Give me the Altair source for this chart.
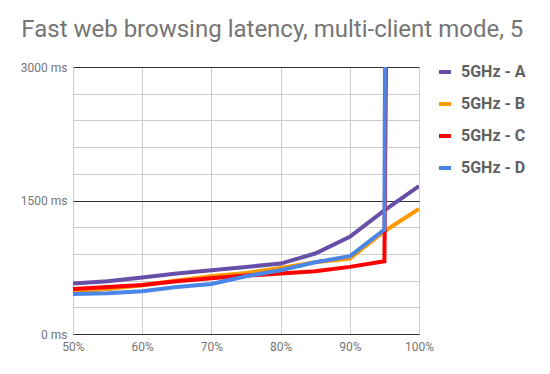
import altair as alt
import pandas as pd

load = [0.50, 0.55, 0.60, 0.65, 0.70, 0.75, 0.80, 0.85, 0.90, 0.95, 1.00]
series_names = ["5GHz - A", "5GHz - B", "5GHz - C", "5GHz - D"]
lat_a = [566, 593, 634, 679, 716, 754, 791, 904, 1091, 1388, 1661]
lat_b = [480, 506, 548, 600, 649, 686, 742, 806, 847, 1155, 1406]
lat_c = [506, 529, 551, 592, 626, 656, 679, 705, 754, 817, 50000]
lat_d = [450, 457, 480, 529, 562, 649, 716, 806, 874, 1174, 120000]
colors = ["#674ea7", "#ff9900", "#ff0000", "#4a86e8"]
y_ticks = [0, 300, 600, 900, 1200, 1500, 1800, 2100, 2400, 2700, 3000]
x_ticks = [0.5, 0.6, 0.7, 0.8, 0.9, 1.0]

rows = []
for name, vals in zip(series_names, [lat_a, lat_b, lat_c, lat_d]):
    for x, v in zip(load, vals):
        rows.append({"load": x, "latency": v, "series": name})
df = pd.DataFrame(rows)

chart = alt.Chart(df).mark_line(strokeWidth=4, clip=True).encode(
    x=alt.X("load:Q",
            scale=alt.Scale(domain=[0.5, 1.0], nice=False, zero=False),
            axis=alt.Axis(values=x_ticks, format=".0%", title=None, domain=False,
                          ticks=False, labelPadding=7, labelFlush=False,
                          labelFont="Roboto", labelFontSize=12, labelColor="#757575",
                          gridColor="#cccccc", gridWidth=1)),
    y=alt.Y("latency:Q",
            scale=alt.Scale(domain=[0, 3000], nice=False),
            axis=alt.Axis(values=y_ticks, title=None, domain=False, ticks=False,
                          labelExpr="datum.value % 1500 === 0 ? datum.value + ' ms' : ''",
                          labelPadding=6, labelFont="Roboto", labelFontSize=12,
                          labelColor="#757575",
                          gridColor={"condition": {"test": "datum.value % 1500 === 0", "value": "#333333"}, "value": "#cccccc"},
                          gridWidth=1)),
    color=alt.Color("series:N",
                    scale=alt.Scale(domain=series_names, range=colors),
                    legend=alt.Legend(orient="none", legendX=364, legendY=-3, title=None,
                                      symbolType="stroke", symbolStrokeWidth=4,
                                      symbolSize=144, labelFont="Roboto",
                                      labelFontSize=16, labelFontWeight="bold",
                                      labelColor="#616161", rowPadding=16,
                                      labelOffset=8)),
).properties(
    width=346,
    height=267,
    title=alt.TitleParams("Fast web browsing latency, multi-client mode, 5",
                          anchor="start", frame="bounds", font="Roboto",
                          fontSize=24, fontWeight="normal", color="#757575",
                          baseline="alphabetic", offset=0, dx=1),
    autosize=alt.AutoSizeParams(type="none"),
    padding={"left": 65, "top": 59, "right": 123, "bottom": 32},
).configure_view(stroke=None)

chart.save("out.html", embed_options={"renderer": "svg", "actions": False})
